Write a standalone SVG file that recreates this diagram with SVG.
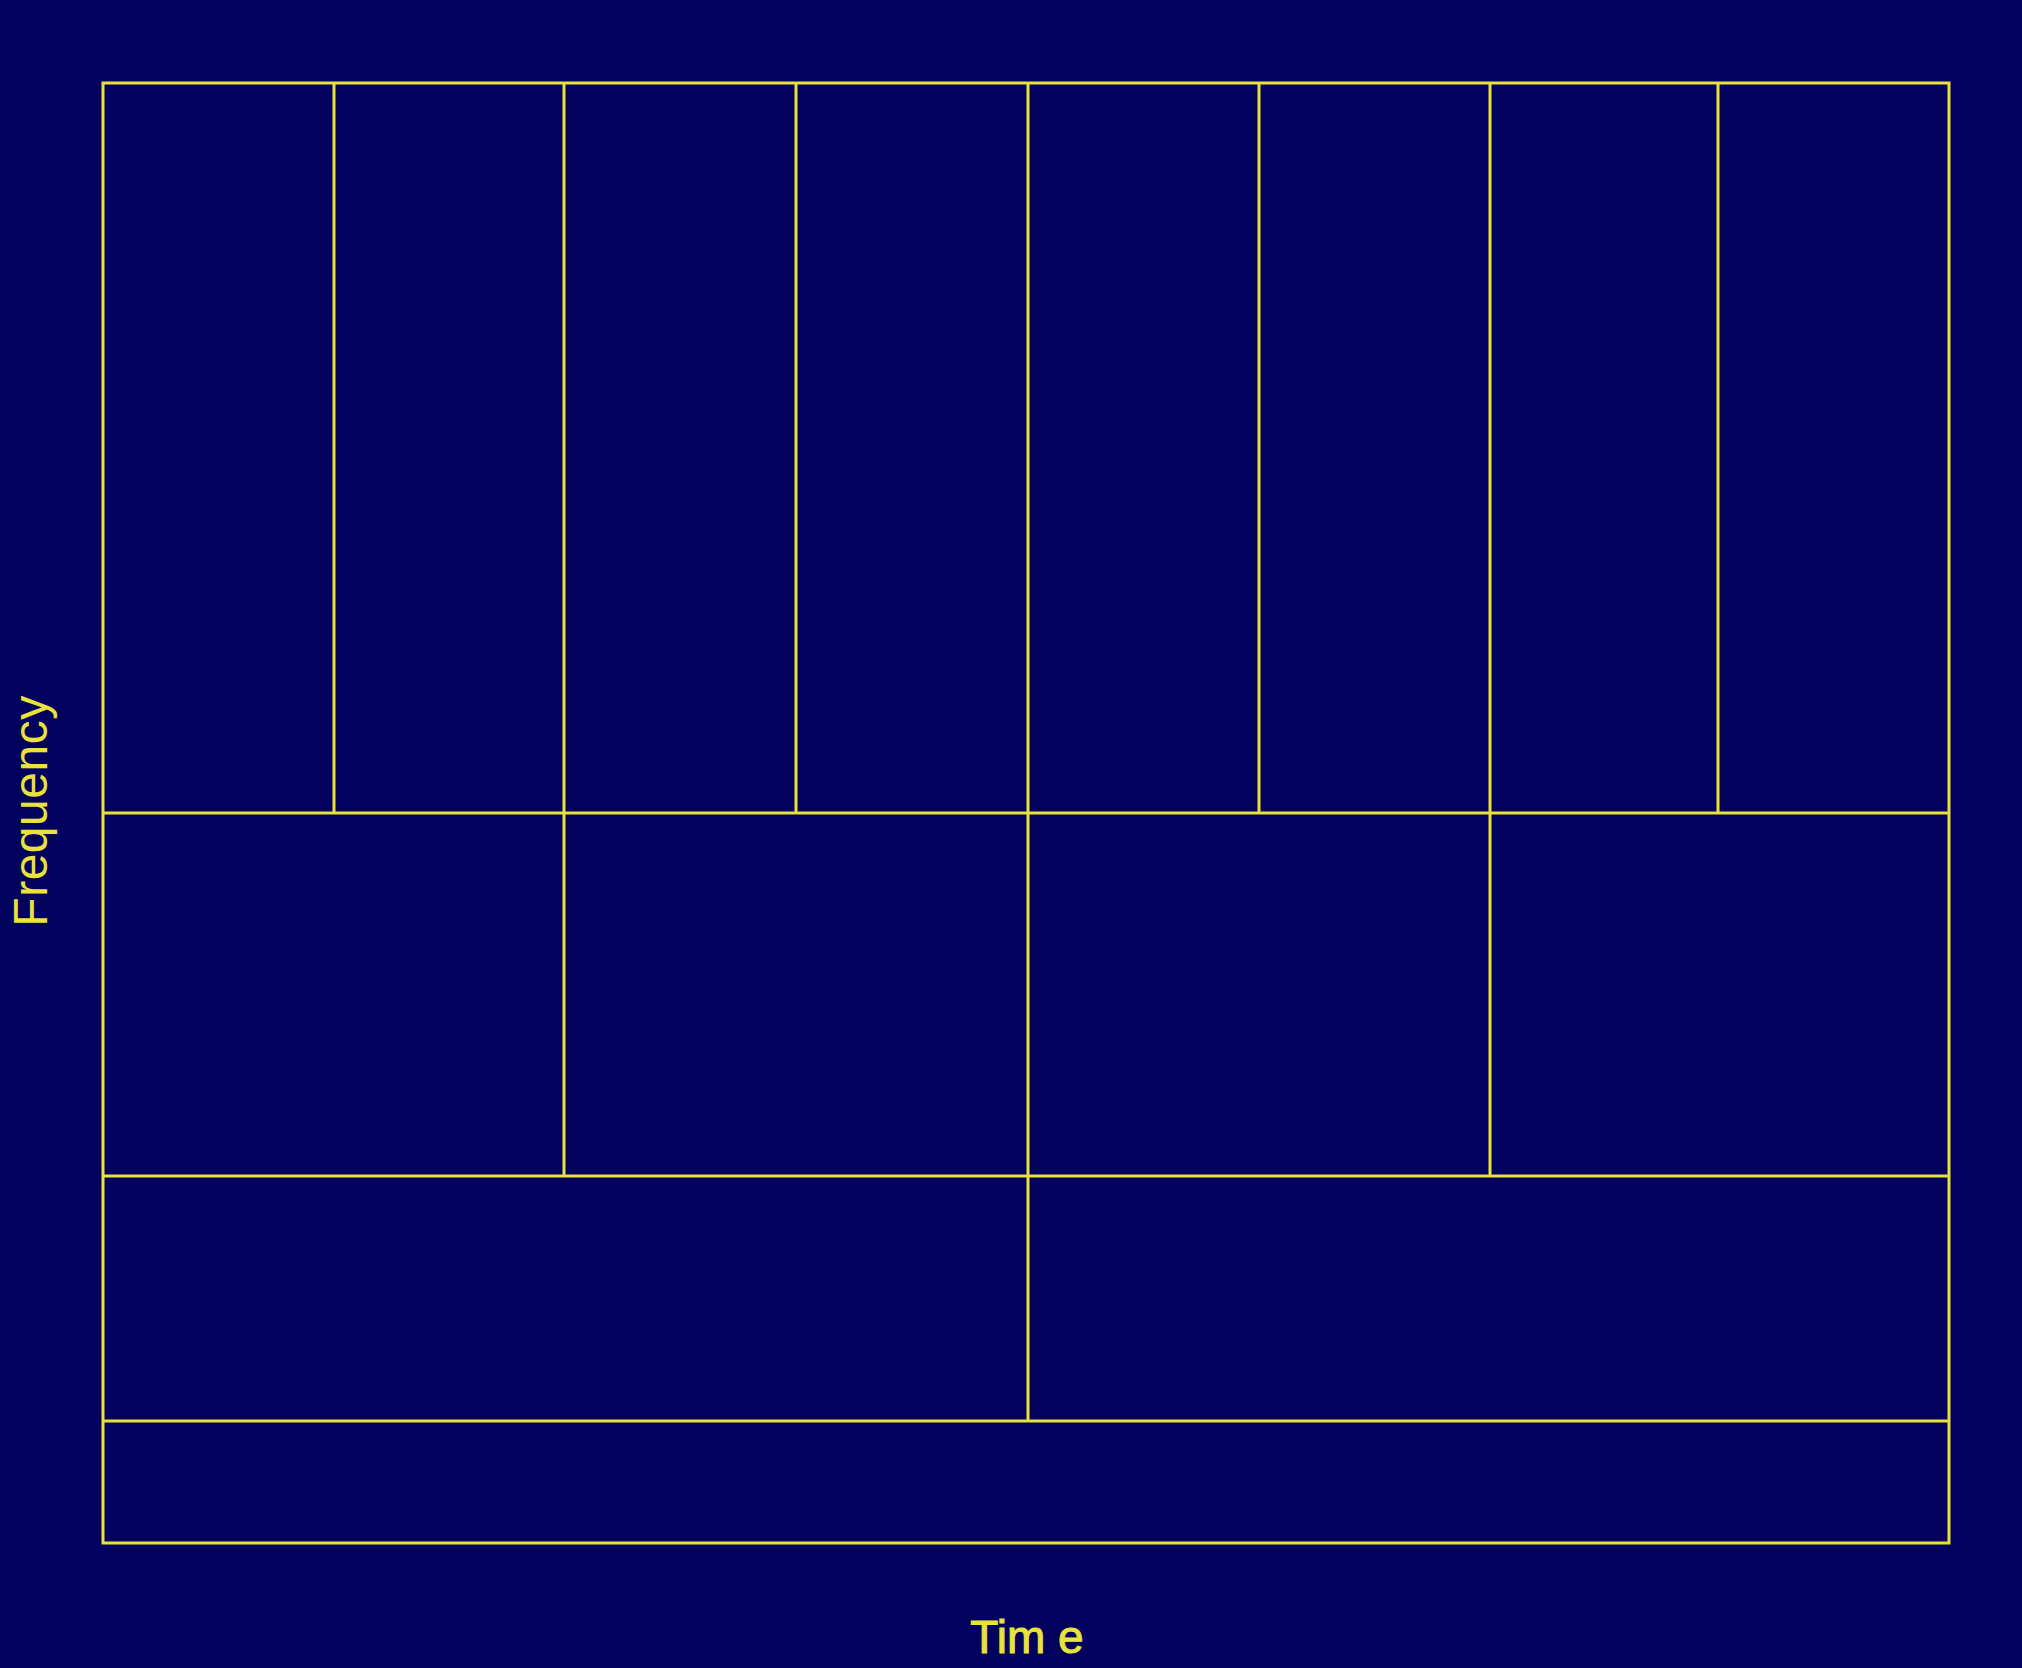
<svg xmlns="http://www.w3.org/2000/svg" width="2022" height="1668" viewBox="0 0 2022 1668">
<style>
.ln{stroke:#e8e23a;stroke-width:3;fill:none}
.lbl{font-family:"Liberation Sans",Arial,sans-serif;font-size:47px;fill:#e8e23a}
</style>
<rect x="0" y="0" width="2022" height="1668" fill="#02025e"/>
<g id="frame">
<rect class="ln" x="103" y="83" width="1846" height="1460"/>
</g>
<g id="connectors">
<line class="ln" x1="103" y1="813" x2="1949" y2="813"/>
<line class="ln" x1="103" y1="1176" x2="1949" y2="1176"/>
<line class="ln" x1="103" y1="1421" x2="1949" y2="1421"/>
<line class="ln" x1="334" y1="83" x2="334" y2="813"/>
<line class="ln" x1="564" y1="83" x2="564" y2="1176"/>
<line class="ln" x1="796" y1="83" x2="796" y2="813"/>
<line class="ln" x1="1028" y1="83" x2="1028" y2="1421"/>
<line class="ln" x1="1259" y1="83" x2="1259" y2="813"/>
<line class="ln" x1="1490" y1="83" x2="1490" y2="1176"/>
<line class="ln" x1="1718" y1="83" x2="1718" y2="813"/>
</g>
<g id="labels">
<text class="lbl" x="1027" y="1653" text-anchor="middle" style="font-size:46px;stroke:#e8e23a;stroke-width:1">Tim e</text>
<text class="lbl" transform="translate(47,811) rotate(-90)" text-anchor="middle" style="font-size:48px;letter-spacing:0.5px">Frequency</text>
</g>
</svg>
